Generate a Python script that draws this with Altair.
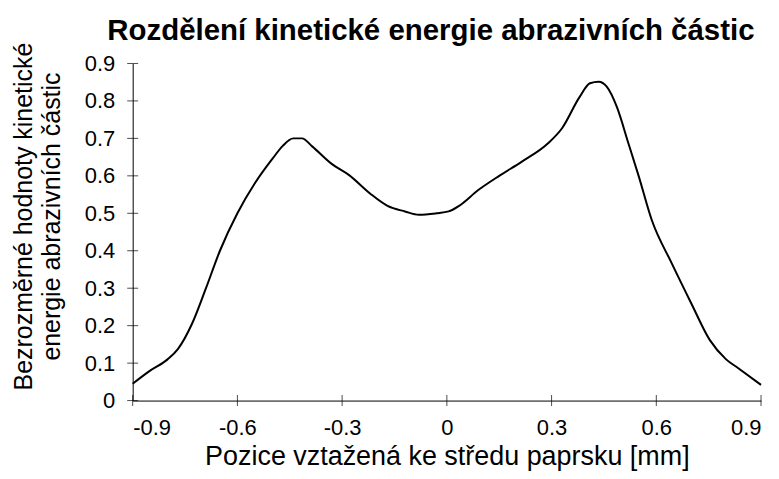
import altair as alt
import pandas as pd

# Curve values
pos = [-0.9, -0.85, -0.8, -0.77, -0.73, -0.69, -0.65, -0.6, -0.55, -0.5, -0.47, -0.44,
       -0.415, -0.385, -0.33, -0.28, -0.22, -0.17, -0.12, -0.08, -0.03, 0.005, 0.035,
       0.09, 0.15, 0.215, 0.29, 0.33, 0.38, 0.41, 0.435, 0.458, 0.487, 0.52, 0.55,
       0.587, 0.644, 0.7, 0.753, 0.8, 0.834, 0.9]
energy = [0.045, 0.08, 0.11, 0.138, 0.205, 0.3, 0.4, 0.5, 0.58, 0.645, 0.68, 0.7,
          0.7, 0.678, 0.632, 0.602, 0.553, 0.52, 0.505, 0.496, 0.5, 0.505, 0.52,
          0.562, 0.6, 0.638, 0.687, 0.727, 0.81, 0.847, 0.851, 0.838, 0.784, 0.687, 0.598,
          0.482, 0.367, 0.26, 0.162, 0.11, 0.087, 0.042]

x_ticks = [-0.9, -0.6, -0.3, 0, 0.3, 0.6, 0.9]
y_ticks = [0, 0.1, 0.2, 0.3, 0.4, 0.5, 0.6, 0.7, 0.8, 0.9]

title_text = "Rozdělení kinetické energie abrazivních částic"
x_title = "Pozice vztažená ke středu paprsku [mm]"
y_title = ["Bezrozměrné hodnoty kinetické", "energie abrazivních částic"]

FONT = "Liberation Sans"

df = pd.DataFrame({"x": pos, "y": energy})
xt = pd.DataFrame({"x": x_ticks, "y": [0] * len(x_ticks)})
yt = pd.DataFrame({"x": [x_ticks[0]] * len(y_ticks), "y": y_ticks})

xscale = alt.Scale(domain=[-0.9, 0.9], nice=False, zero=False)
yscale = alt.Scale(domain=[0, 0.9], nice=False)

xaxis = alt.Axis(values=x_ticks, labelExpr="'' + datum.value", grid=False, ticks=False,
                 tickSize=0, domainColor="black", domainWidth=1, labelFontSize=22,
                 labelFont=FONT, labelColor="black", labelPadding=17, labelOverlap=False,
                 title=x_title, titleFont=FONT, titleFontSize=27, titleFontWeight="normal",
                 titleColor="black", titlePadding=5)
yaxis = alt.Axis(values=y_ticks, labelExpr="'' + datum.value", grid=False, ticks=False,
                 tickSize=0, domainColor="black", domainWidth=1, labelFontSize=22,
                 labelFont=FONT, labelColor="black", labelPadding=18, labelOverlap=False,
                 title=y_title, titleFont=FONT, titleFontSize=25, titleFontWeight="normal",
                 titleColor="black", titleAngle=-90, titleAlign="center",
                 titleBaseline="top", titleX=-121, titleY=153, titleLineHeight=28)

line = alt.Chart(df).mark_line(color="black", strokeWidth=2, interpolate="monotone").encode(
    x=alt.X("x:Q", scale=xscale, axis=xaxis),
    y=alt.Y("y:Q", scale=yscale, axis=yaxis),
)

xtick_layer = alt.Chart(xt).mark_tick(orient="vertical", size=11, thickness=1, color="black").encode(
    x=alt.X("x:Q", scale=xscale, axis=xaxis), y=alt.Y("y:Q", scale=yscale, axis=yaxis))
ytick_layer = alt.Chart(yt).mark_tick(orient="horizontal", size=11, thickness=1, color="black").encode(
    x=alt.X("x:Q", scale=xscale, axis=xaxis), y=alt.Y("y:Q", scale=yscale, axis=yaxis))

chart = alt.layer(line, xtick_layer, ytick_layer).properties(
    width=630, height=338,
    autosize=alt.AutoSizeParams(type="none"),
    padding={"left": 125, "top": 55, "right": 10, "bottom": 70},
    title=alt.TitleParams(title_text, font=FONT, fontSize=29.5, fontWeight="bold",
                          color="black", anchor="middle", dx=-16, dy=22, offset=18),
).configure_view(stroke=None)

chart.save("out.html", embed_options={"renderer": "svg", "actions": False})
